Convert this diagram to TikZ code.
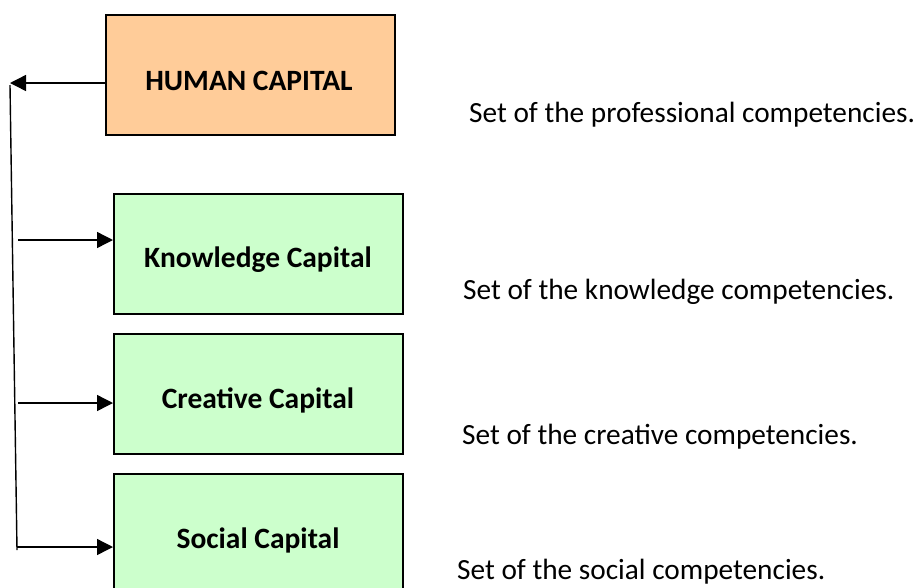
\documentclass[tikz,border=0pt]{standalone}
\usepackage{fontspec}
\setmainfont{Carlito}
\usetikzlibrary{arrows.meta}
\definecolor{orangefill}{HTML}{FFCC99}
\definecolor{greenfill}{HTML}{CCFFCC}
\tikzset{
  capbox/.style={draw=black, line width=1.8pt, minimum width=289pt, minimum height=120pt, inner sep=0pt},
  boxlabel/.style={font=\fontsize{29.5}{34}\selectfont\bfseries, inner sep=0pt, anchor=base},
  desc/.style={font=\fontsize{29.3}{34}\selectfont, inner sep=0pt, anchor=base west},
  conn/.style={line width=1.4pt, draw=black},
  arr/.style={conn, -{Triangle[length=16pt,width=16pt]}}
}
\begin{document}
\begin{tikzpicture}[x=1pt,y=-1pt]
\useasboundingbox (0,0) rectangle (920,587);
% boxes
\node[capbox, fill=orangefill, anchor=north west] (human) at (105,14) {};
\node[capbox, fill=greenfill, anchor=north west] (know) at (113,193) {};
\node[capbox, fill=greenfill, anchor=north west] (crea) at (113,333) {};
\node[capbox, fill=greenfill, anchor=north west] (soc) at (113,473) {};
% box labels
\node[boxlabel] (humanlbl) at (249,90) {HUMAN CAPITAL};
\node[boxlabel] (knowlbl) at (258,267) {Knowledge Capital};
\node[boxlabel] (crealbl) at (258,408) {Creative Capital};
\node[boxlabel] (soclbl) at (258,548) {Social Capital};
% descriptions
\node[desc] (d1) at (469,122) {Set of the professional competencies.};
\node[desc] (d2) at (463,299) {Set of the knowledge competencies.};
\node[desc] (d3) at (462,444) {Set of the creative competencies.};
\node[desc] (d4) at (457,579) {Set of the social competencies.};
% connectors
\coordinate (htip) at (10,83);
\coordinate (vtop) at (10,85);
\coordinate (vbot) at (17,550);
\coordinate (s1) at (18,240);
\coordinate (s2) at (18,403);
\coordinate (s3) at (17,547);
\draw[arr] (human.west |- htip) -- (htip);
\draw[conn] (vtop) -- (vbot);
\draw[arr] (s1) -- (s1 -| know.west);
\draw[arr] (s2) -- (s2 -| crea.west);
\draw[arr] (s3) -- (s3 -| soc.west);
\end{tikzpicture}
\end{document}
